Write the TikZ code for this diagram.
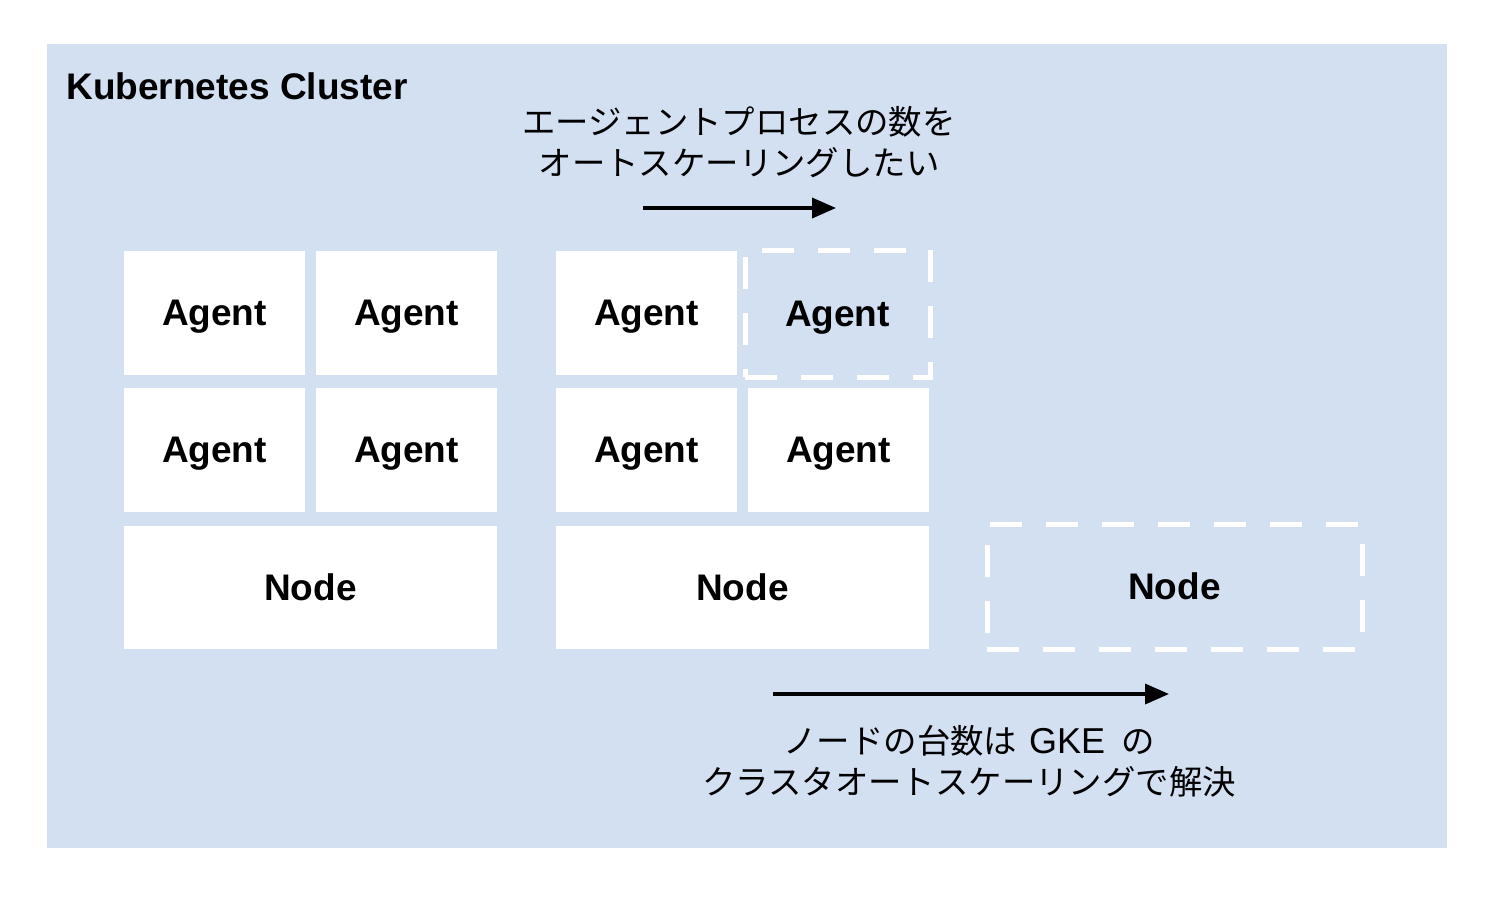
\documentclass[tikz,border=0pt]{standalone}
\usepackage{fontspec}
\setmainfont{Liberation Sans}
\newfontfamily\jpfont{Noto Sans CJK JP}
\newfontfamily\latinfont{Liberation Sans}
\usetikzlibrary{arrows.meta}
\definecolor{clusterbg}{HTML}{D3E0F1}
\tikzset{
  box/.style={fill=white, draw=none, inner sep=0pt, text depth=0pt, font=\fontsize{18.5}{22}\selectfont\bfseries},
  agentbox/.style={box, minimum width=90.5pt, minimum height=62pt},
  nodebox/.style={box, minimum width=186.5pt, minimum height=61.5pt},
  dashbox/.style={fill=none, draw=white, line width=2.5pt, dash pattern=on 16pt off 12pt, inner sep=0pt, text depth=0pt, font=\fontsize{18.5}{22}\selectfont\bfseries},
  jptext/.style={align=center, inner sep=0pt, font=\jpfont\fontsize{16.7}{20.5}\selectfont},
  arrowline/.style={line width=1.8pt, -{Triangle[length=12pt,width=10pt]}}
}
\begin{document}
\begin{tikzpicture}[x=0.5pt,y=-0.5pt]
\useasboundingbox (0,0) rectangle (1508,896);
\fill[white] (0,0) rectangle (1508,896);
\fill[clusterbg] (47,44) rectangle (1447,848);
\node[anchor=west, inner sep=0pt, font=\fontsize{18.5}{22}\selectfont\bfseries] (title) at (66,86) {Kubernetes Cluster};
% left node
\node[agentbox] (la1) at (214.5,313) {Agent};
\node[agentbox] (la2) at (406.5,313) {Agent};
\node[agentbox] (la3) at (214.5,450) {Agent};
\node[agentbox] (la4) at (406.5,450) {Agent};
\node[nodebox] (ln) at (310.5,587.5) {Node};
% middle node
\node[agentbox] (ma1) at (646.5,313) {Agent};
\node[dashbox, minimum width=92.5pt, minimum height=63.5pt] (ma2) at (837.5,313.5) {Agent};
\node[agentbox] (ma3) at (646.5,450) {Agent};
\node[agentbox] (ma4) at (838.5,450) {Agent};
\node[nodebox] (mn) at (742.5,587.5) {Node};
% new node
\node[dashbox, minimum width=187.5pt, minimum height=62.5pt] (rn) at (1174.5,586.5) {Node};
% texts
\node[jptext] (toptext) at (739,142.5) {エージェントプロセスの数を\\オートスケーリングしたい};
\node[jptext] (bottext) at (969,761.5) {ノードの台数は\hspace{6pt}{\latinfont\fontsize{18}{20.5}\selectfont GKE}\hspace{8pt}の\\クラスタオートスケーリングで解決};
% arrows
\coordinate (a1s) at (643,208);
\coordinate (a1e) at (836,208);
\coordinate (a2s) at (773,694);
\coordinate (a2e) at (1169,694);
\draw[arrowline] (a1s) -- (a1e);
\draw[arrowline] (a2s) -- (a2e);
\end{tikzpicture}
\end{document}
